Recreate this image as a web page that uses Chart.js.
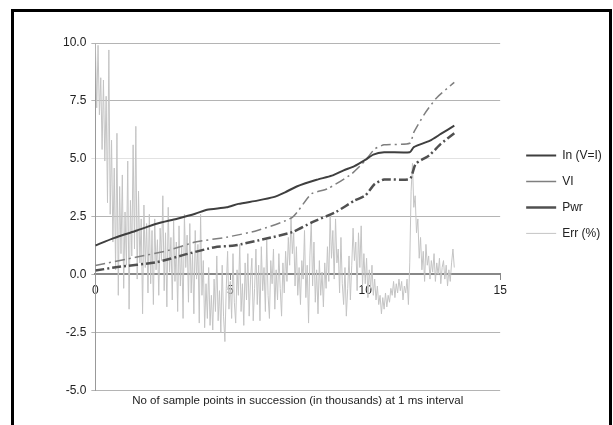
<!DOCTYPE html>
<html>
<head>
<meta charset="utf-8">
<script src="https://cdn.jsdelivr.net/npm/chart.js@4.4.1/dist/chart.umd.min.js"></script>
<style>
  body { margin: 0; background: #fff; }
  #wrap { position: absolute; left: 0; top: 0; width: 613px; height: 425px; }
</style>
</head>
<body>
<div id="wrap"><canvas id="chart" width="613" height="425"></canvas></div>
<script>
// x positions are sample counts in thousands
var inX  = [0, 0.68, 1.54, 2.27, 3.0, 3.7, 4.14, 4.86, 5.3, 6.0, 6.6, 7.03, 7.46, 8.2, 8.76, 9.2, 9.6, 10.0, 10.3, 10.7, 11.65, 11.8, 12.4, 12.8, 13.3];
var inY  = [1.25, 1.57, 1.9, 2.19, 2.4, 2.62, 2.8, 2.9, 3.05, 3.19, 3.34, 3.55, 3.8, 4.09, 4.27, 4.5, 4.68, 4.95, 5.18, 5.28, 5.28, 5.5, 5.78, 6.07, 6.43];

var viX  = [0, 1.54, 2.7, 3.7, 4.86, 6.0, 7.3, 8.0, 8.6, 9.5, 10.0, 10.35, 10.7, 11.65, 11.8, 12.2, 12.66, 13.3];
var viY  = [0.39, 0.75, 1.04, 1.4, 1.61, 1.9, 2.47, 3.48, 3.7, 4.35, 4.92, 5.42, 5.6, 5.67, 6.14, 6.94, 7.65, 8.3];

var pwrX = [0, 0.82, 2.27, 3.42, 4.43, 5.15, 6.3, 7.3, 8.04, 8.9, 9.6, 10.0, 10.35, 10.7, 11.65, 11.87, 12.37, 12.8, 13.3];
var pwrY = [0.17, 0.32, 0.53, 0.89, 1.18, 1.25, 1.54, 1.83, 2.26, 2.69, 3.19, 3.41, 3.91, 4.1, 4.13, 4.78, 5.14, 5.64, 6.1];

// error samples, one every 0.05 (thousand samples)
var errStep = 0.05;
var errY = [
  10.0, 7.2, 9.9, 6.9, 8.5, 5.4, 8.4, 4.9, 7.7, 3.1, 9.7, 2.6, 5.8, 1.4, 4.6, 0.2, 6.1, -0.9, 3.8, 0.9,
  4.3, -0.6, 2.7, 0.4, 4.9, -1.5, 3.2, 0.8, 5.6, 1.1, 6.4, -0.2, 3.6, 0.5, 2.4, -1.7, 3.0, 0.3, 2.2, -0.8,
  2.6, -0.4, 1.9, -1.3, 2.4, 0.2, 1.5, -0.9, 2.0, 0.6, 3.4, -0.7, 1.8, -1.4, 2.9, 0.1, 1.6, -1.1, 2.3, -0.3,
  1.4, -1.6, 2.1, -0.5, 1.2, -1.9, 2.6, 0.3, 1.7, -1.2, 2.2, -0.8, 0.9, -1.7, 1.9, -0.2, 1.3, -2.1, 2.6, -0.9,
  0.6, -2.3, -0.4, -1.9, 0.3, -2.2, -0.9, -2.4, -0.2, -1.6, 0.8, -2.0, -0.7, -2.5, 0.4, -1.8, -2.9, -0.6, 1.0, -1.5,
  -0.3, -1.9, 0.9, -1.2, -2.1, 0.2, -0.9, 1.3, -1.6, -0.4, -2.2, 0.5, -1.1, 0.9, -1.8, -0.2, 0.7, -2.0, -0.6, 1.1,
  -1.3, 0.4, -2.0, 1.2, -0.7, 0.3, -1.6, 1.5, -0.9, -1.9, 0.6, -0.4, 1.1, -1.5, 0.2, -1.1, 0.9, -0.6, -1.8, 0.5,
  -0.8, 1.0, -0.3, 1.6, 0.4, 2.5, 0.9, 1.8, -0.5, 1.2, -0.9, 0.3, -1.3, 0.6, -0.2, 1.9, -1.0, 0.4, -2.1, 0.8,
  2.3, -0.5, 1.4, -1.2, 0.2, -1.7, 0.6, -0.9, 0.1, -1.4, 0.5, -0.6, 1.2, -0.3, 2.6, 0.7, 1.9, -0.2, 2.4, 0.5,
  1.1, -0.8, 1.6, -0.4, -1.3, 0.3, -1.8, -0.6, 0.8, -1.1, 0.4, 2.0, 0.6, 1.4, -0.7, 1.8, 0.3, 2.1, -0.5, 0.9,
  -0.4, 0.7, -1.0, 0.2, -0.6, 0.4, -0.9, -0.2, -1.1, -0.5, -1.3, -0.9, -1.7, -1.0, -1.5, -0.8, -1.4, -0.9, -1.2, -0.6,
  -0.9, -0.3, -1.0, -0.4, -0.8, -0.2, -0.7, -0.3, -1.1, -0.5, -0.8, -0.2, -1.3, 0.5, 3.6, 4.8, 2.9, 3.4, 1.8, 2.4,
  0.7, 1.6, 0.2, 1.0, -0.3, 1.3, 0.4, 0.8, -0.2, 0.6, 0.1, 0.9, -0.3, 0.5, 0.0, 0.7, -0.4, 0.3, 0.6, -0.2,
  0.4, -0.5, 0.2, -0.3, 0.5, 1.1, 0.3
];

var seriesNames = ['In (V=I)', 'VI', 'Pwr', 'Err (%)'];
var xTicks = [0, 5, 10, 15];
var yMin = -5, yMax = 10, yStep = 2.5;
var xTitle = 'No of sample points in succession (in thousands) at 1 ms interval';

function pts(xs, ys) {
  return ys.map(function (v, i) { return { x: xs[i], y: v }; });
}
var errX = errY.map(function (v, i) { return +(i * errStep).toFixed(2); });

var frame = {
  id: 'frame',
  beforeDraw: function (chart) {
    var ctx = chart.ctx;
    ctx.save();
    ctx.fillStyle = '#fff';
    ctx.fillRect(0, 0, chart.width, chart.height);
    ctx.strokeStyle = '#000';
    ctx.lineWidth = 3;
    ctx.strokeRect(12.5, 10.5, 598, 460);
    ctx.restore();
  }
};

var ctx = document.getElementById('chart').getContext('2d');
var myChart = new Chart(ctx, {
  type: 'line',
  data: {
    datasets: [{
      label: seriesNames[0],
      data: pts(inX, inY),
      borderColor: '#3f3f3f',
      borderWidth: 2,
      pointRadius: 0,
      tension: 0.2
    }, {
      label: seriesNames[1],
      data: pts(viX, viY),
      borderColor: '#7f7f7f',
      borderWidth: 1.5,
      borderDash: [10, 4, 2, 4],
      pointRadius: 0,
      tension: 0.2
    }, {
      label: seriesNames[2],
      data: pts(pwrX, pwrY),
      borderColor: '#505050',
      borderWidth: 2.5,
      borderDash: [9, 3, 2, 3],
      pointRadius: 0,
      tension: 0.2
    }, {
      label: seriesNames[3],
      data: pts(errX, errY),
      borderColor: '#c4c4c4',
      borderWidth: 1,
      pointRadius: 0,
      tension: 0
    }]
  },
  options: {
    responsive: false,
    animation: false,
    layout: { padding: { top: 43, right: 10, bottom: 17, left: 58 } },
    plugins: {
      legend: {
        position: 'right',
        align: 'start',
        title: { display: true, text: '', padding: { top: 78, bottom: 0 } },
        labels: {
          usePointStyle: true,
          pointStyle: 'line',
          pointStyleWidth: 30,
          boxHeight: 12,
          padding: 14,
          color: '#222',
          font: { family: 'Liberation Sans', size: 12 }
        }
      },
      tooltip: { enabled: false }
    },
    scales: {
      x: {
        type: 'linear',
        position: { y: 0 },
        min: 0,
        max: 15,
        afterBuildTicks: function (axis) {
          axis.ticks = xTicks.map(function (v) { return { value: v }; });
        },
        grid: { drawOnChartArea: false, drawTicks: true, tickLength: 5, color: '#888' },
        border: { display: true, color: '#888', width: 2 },
        ticks: { color: '#222', padding: 4, maxRotation: 0, font: { family: 'Liberation Sans', size: 12 } }
      },
      xt: {
        type: 'linear',
        position: 'bottom',
        min: 0,
        max: 15,
        grid: { display: false },
        border: { display: false },
        ticks: { display: false },
        title: {
          display: true,
          text: xTitle,
          color: '#222',
          padding: { top: -4, bottom: 0 },
          font: { family: 'Liberation Sans', size: 11.5 }
        }
      },
      y: {
        min: yMin,
        max: yMax,
        ticks: {
          stepSize: yStep,
          color: '#222',
          padding: 5,
          font: { family: 'Liberation Sans', size: 12 },
          callback: function (v) { return v.toFixed(1); }
        },
        grid: {
          tickLength: 4,
          color: function (c) { return c.tick && c.tick.value === 5 ? '#e2e2e2' : '#b4b4b4'; }
        },
        border: { display: true, color: '#999', width: 1 }
      },
      gap: {
        type: 'linear',
        position: 'right',
        min: yMin,
        max: yMax,
        grid: { display: false },
        border: { display: false },
        ticks: { display: false },
        title: { display: true, text: '', padding: 0, font: { size: 10 / 3 } }
      }
    }
  },
  plugins: [frame]
});
</script>
</body>
</html>
